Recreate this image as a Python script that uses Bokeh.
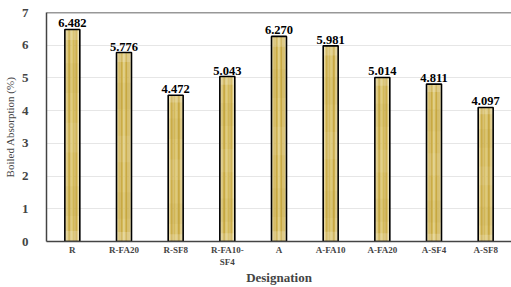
from bokeh.plotting import figure
from bokeh.models import ColumnDataSource, FactorRange, Span, LabelSet, CategoricalAxis
from bokeh.transform import dodge
from bokeh.embed import file_html
from bokeh.resources import INLINE

categories = ["R", "R-FA20", "R-SF8", "R-FA10-\nSF4", "A", "A-FA10", "A-FA20", "A-SF4", "A-SF8"]
absorption = [6.482, 5.776, 4.472, 5.043, 6.270, 5.981, 5.014, 4.811, 4.097]
value_labels = ["6.482", "5.776", "4.472", "5.043", "6.270", "5.981", "5.014", "4.811", "4.097"]

source = ColumnDataSource(dict(cat=categories, val=absorption, lab=value_labels))

SERIF = "Liberation Serif"

p = figure(x_range=FactorRange(*categories), y_range=(0, 7),
           width=511, height=287, output_backend="svg", toolbar_location=None,
           min_border_left=42, min_border_right=0, min_border_top=12, min_border_bottom=2)
p.outline_line_color = None
p.background_fill_color = "white"
p.border_fill_color = "white"

bar_w = 0.29
shades = ["#EADCA6", "#DBC474", "#CDAF4B", "#C9A943", "#D3B95A", "#DDC872",
          "#D3B95A", "#C9A943", "#CDAF4B", "#DBC474", "#EADCA6"]
n = len(shades)
sw = bar_w / n
for i, c in enumerate(shades):
    off = -bar_w / 2 + sw * (i + 0.5)
    p.vbar(x=dodge("cat", off, range=p.x_range), top="val", width=sw * 1.05,
           source=source, fill_color=c, line_color=None)

bands = [(0.00, 0.05, "#FFFFFF", 0.18), (0.12, 0.26, "#A88A20", 0.07),
         (0.42, 0.56, "#FFFFFF", 0.08), (0.70, 0.84, "#A88A20", 0.07),
         (0.95, 1.00, "#FFFFFF", 0.18)]
for f0, f1, c, a in bands:
    bsrc = ColumnDataSource(dict(cat=categories,
                                 b=[v * f0 for v in absorption],
                                 t=[v * f1 for v in absorption]))
    p.vbar(x="cat", bottom="b", top="t", width=bar_w, source=bsrc,
           fill_color=c, fill_alpha=a, line_color=None)

p.vbar(x="cat", top="val", width=bar_w, source=source, fill_color=None,
       line_color="black", line_width=1.6)

labels = LabelSet(x="cat", y="val", text="lab", source=source, text_align="center",
                  text_baseline="bottom", y_offset=2, text_font=SERIF,
                  text_font_style="bold", text_font_size="12.5px", text_color="black")
p.add_layout(labels)

p.add_layout(Span(location=7, dimension="width", line_color="#333333", line_width=1.6))

p.xgrid.grid_line_color = None
p.ygrid.grid_line_color = "#E6E6E6"
p.ygrid.grid_line_width = 1

p.yaxis.ticker = [0, 1, 2, 3, 4, 5, 6, 7]
p.yaxis.axis_label = "Boiled Absorption (%)"
p.yaxis.axis_label_text_font = SERIF
p.yaxis.axis_label_text_font_style = "normal"
p.yaxis.axis_label_text_font_size = "11px"
p.yaxis.axis_label_standoff = 3
p.yaxis.major_label_text_font = SERIF
p.yaxis.major_label_text_font_style = "bold"
p.yaxis.major_label_text_font_size = "13px"
p.yaxis.major_label_standoff = 12
p.yaxis.major_tick_line_color = None
p.yaxis.minor_tick_line_color = None
p.yaxis.axis_line_color = "#444444"
p.yaxis.axis_line_width = 1.5

p.xaxis.major_label_text_font = SERIF
p.xaxis.major_label_text_font_style = "bold"
p.xaxis.major_label_text_font_size = "9px"
p.xaxis.major_label_standoff = 3
p.xaxis.major_tick_out = 0
p.xaxis.major_tick_line_color = None
p.xaxis.axis_line_color = "#444444"
p.xaxis.axis_line_width = 1.5

# second (label-only) axis carrying the x-axis title
title_axis = CategoricalAxis(axis_label="Designation", axis_label_text_font=SERIF,
                             axis_label_text_font_style="bold",
                             axis_label_text_font_size="13px", axis_label_standoff=0,
                             major_label_text_font_size="0px", major_label_text_alpha=0,
                             major_label_standoff=0, major_tick_out=0, major_tick_in=0,
                             major_tick_line_color=None, axis_line_color=None)
p.add_layout(title_axis, "below")

p.x_range.range_padding = 0
p.x_range.group_padding = 0

open("out.html", "w").write(file_html(p, INLINE))
